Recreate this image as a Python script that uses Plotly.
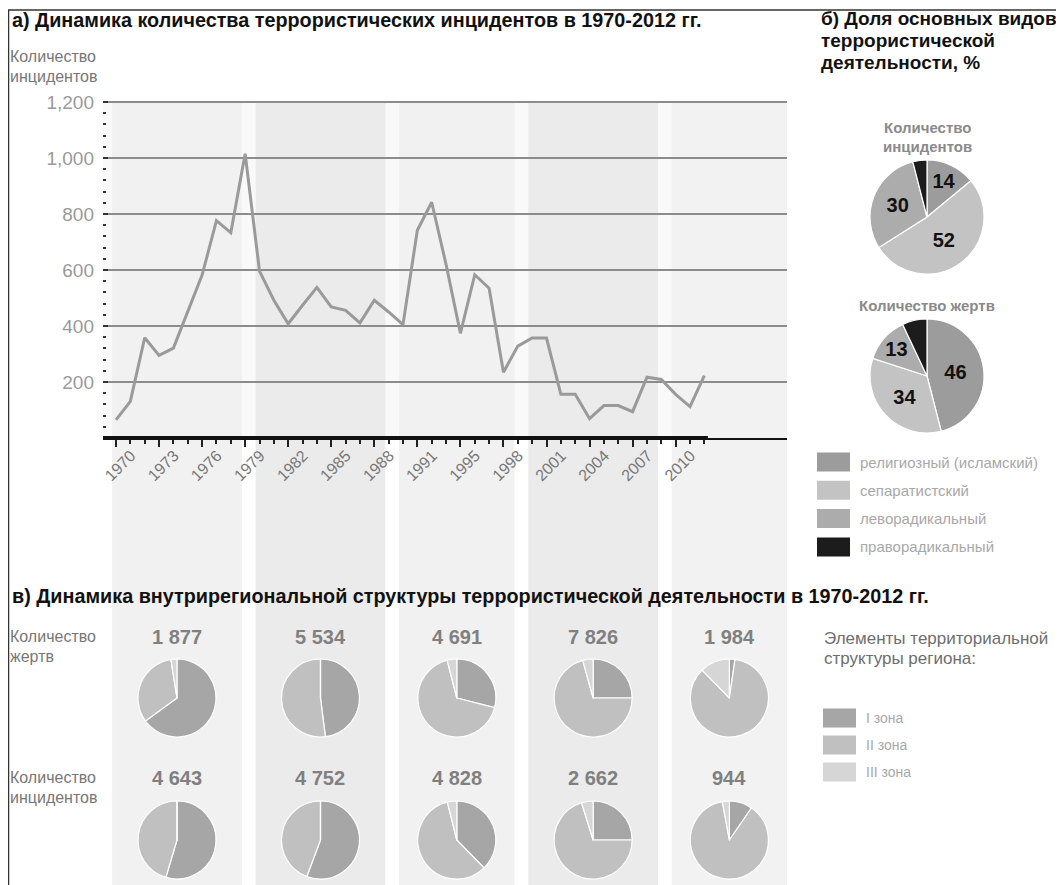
import plotly.graph_objects as go

W, H = 1064, 885
OFF = 8   # page body margin of the html page, compensated below
FONT = "Liberation Sans, Arial, sans-serif"

# ---------------- data ----------------
years = [1970, 1971, 1972, 1973, 1974, 1975, 1976, 1977, 1978, 1979,
         1980, 1981, 1982, 1983, 1984, 1985, 1986, 1987, 1988, 1989,
         1990, 1991, 1992, 1994, 1995, 1996, 1997, 1998, 1999, 2000,
         2001, 2002, 2003, 2004, 2005, 2006, 2007, 2008, 2009, 2010,
         2011, 2012]
incidents = [65, 131, 358, 295, 321, 455, 582, 776, 733, 1015,
             596, 492, 408, 474, 538, 468, 456, 411, 492, 450,
             405, 742, 842, 620, 374, 583, 535, 235, 328, 357,
             357, 156, 156, 69, 116, 116, 94, 217, 209, 156,
             112, 223]
tick_years = [1970, 1973, 1976, 1979, 1982, 1985, 1988, 1991, 1995, 1998,
              2001, 2004, 2007, 2010]
y_ticks = [200, 400, 600, 800, 1000, 1200]

periods = [(1970, 1979), (1980, 1989), (1990, 1999), (2000, 2009), (2010, 2012)]
band_colors = ["#f1f1f1", "#ebebeb", "#f1f1f1", "#ebebeb", "#f2f2f2"]

types = ["религиозный (исламский)", "сепаратистский", "леворадикальный", "праворадикальный"]
type_colors = ["#9c9c9c", "#c3c3c3", "#acacac", "#1c1c1c"]
share_incidents = [14, 52, 30, 4]
share_victims = [46, 34, 13, 7]

zones = ["I зона", "II зона", "III зона"]
zone_colors = ["#a6a6a6", "#c0c0c0", "#d6d6d6"]
victims_total = ["1 877", "5 534", "4 691", "7 826", "1 984"]
incidents_total = ["4 643", "4 752", "4 828", "2 662", "944"]
victims_zone = [[65, 32.5, 2.5], [48, 52, 0], [29, 67, 4], [25, 70.7, 4.3], [2.3, 85.4, 12.3]]
incidents_zone = [[54.6, 45.4, 0], [55.7, 44.3, 0], [37.7, 58.4, 3.9], [25, 70.2, 4.8], [9.6, 87.5, 2.9]]

# ---------------- helpers ----------------
def px(x):
    return (x - OFF) / W

def py(y):
    return 1 - (y - OFF) / H

X_L, X_R = 103, 787          # plot area in screen pixels
Y_T, Y_B = 100.3, 438
XR = [-0.906, 46.76]         # category index range
YR = [0, 1206]

def idx_px(i):
    return X_L + (i - XR[0]) * (X_R - X_L) / (XR[1] - XR[0])

idx = list(range(len(years)))

fig = go.Figure()

# ---------------- line chart ----------------
fig.add_trace(go.Scatter(
    x=idx, y=incidents, mode="lines",
    line=dict(color="#9a9a9a", width=3),
    hoverinfo="skip", showlegend=False))

shapes = []
shapes.append(dict(type="rect", xref="paper", yref="paper",
                   x0=px(X_L), x1=px(X_R), y0=py(Y_B), y1=py(103),
                   fillcolor="#f9f9f9", line=dict(width=0), layer="below"))
band_centers = []
for k, (a, b) in enumerate(periods):
    i0 = years.index(a) - 0.27
    i1 = years.index(b) - 0.23 if k < len(periods) - 1 else XR[1]
    band_centers.append(idx_px((i0 + i1) / 2))
    shapes.append(dict(type="rect", xref="x", yref="paper",
                       x0=i0, x1=i1, y0=0, y1=py(103),
                       fillcolor=band_colors[k], line=dict(width=0), layer="below"))
shapes.append(dict(type="line", xref="x", yref="y", x0=XR[0], x1=len(years) - 1 + 0.25,
                   y0=0, y1=0, line=dict(color="#111111", width=4)))
shapes.append(dict(type="line", xref="paper", yref="paper", x0=px(8), x1=1,
                   y0=py(10), y1=py(10), line=dict(color="#333333", width=1.5)))
shapes.append(dict(type="line", xref="paper", yref="paper", x0=px(8.5), x1=px(8.5),
                   y0=py(10), y1=0, line=dict(color="#333333", width=1.5)))

fig.update_layout(
    xaxis=dict(domain=[px(X_L), px(X_R)], range=XR, automargin=False,
               tickmode="array", tickvals=[years.index(y) for y in tick_years],
               ticktext=[str(y) for y in tick_years], tickangle=-45,
               tickfont=dict(family=FONT, size=16, color="#777777"),
               ticklabelshift=15, ticklabelstandoff=-7,
               ticks="outside", ticklen=7, tickwidth=2, tickcolor="#222222",
               minor=dict(tickvals=idx, ticks="outside", ticklen=4, tickwidth=2,
                          tickcolor="#222222"),
               showgrid=False, zeroline=False, showline=True,
               linecolor="#111111", linewidth=2, fixedrange=True),
    yaxis=dict(domain=[py(Y_B), py(Y_T)], range=YR, automargin=False,
               tickmode="array", tickvals=y_ticks, tickformat=",d",
               tickfont=dict(family=FONT, size=19, color="#9a9a9a"),
               ticklabelstandoff=8,
               ticks="inside", ticklen=5, tickwidth=2, tickcolor="#333333",
               minor=dict(dtick=40, tick0=0, ticks="inside", ticklen=3, tickwidth=2,
                          tickcolor="#333333", showgrid=False),
               showgrid=True, gridcolor="#8c8c8c", gridwidth=1.5,
               zeroline=False, showline=False, fixedrange=True),
)

# ---------------- right pies ----------------
def pie_domain(cx, cy, r):
    return dict(x=[px(cx - r), px(cx + r)], y=[py(cy + r), py(cy - r)])

for vals, cy in [(share_incidents, 217), (share_victims, 376)]:
    fig.add_trace(go.Pie(
        values=vals, labels=types, sort=False, direction="clockwise", rotation=0,
        marker=dict(colors=type_colors, line=dict(color="white", width=1.2)),
        text=[str(v) if v >= 10 else "" for v in vals], textinfo="text",
        textposition="inside", insidetextorientation="horizontal",
        textfont=dict(family="Liberation Sans Narrow, Liberation Sans, sans-serif",
                      size=20, color="#111111", weight="bold"),
        automargin=False,
        domain=pie_domain(927, cy, 57), hoverinfo="skip", showlegend=False))

# ---------------- bottom pies ----------------
for row_vals, cy in [(victims_zone, 698), (incidents_zone, 840)]:
    for k, vals in enumerate(row_vals):
        fig.add_trace(go.Pie(
            values=vals, labels=zones, sort=False, direction="clockwise", rotation=0,
            marker=dict(colors=zone_colors, line=dict(color="white", width=1.2)),
            textinfo="none", automargin=False,
            domain=pie_domain(band_centers[k], cy, 39),
            hoverinfo="skip", showlegend=False))

# ---------------- annotations ----------------
ann = []
def text(x, y, s, size, color, bold=False, xanchor="left", family=FONT):
    ann.append(dict(xref="paper", yref="paper", x=px(x), y=py(y),
                    text=("<b>%s</b>" % s) if bold else s, showarrow=False,
                    xanchor=xanchor, yanchor="middle",
                    font=dict(family=family, size=size, color=color)))

text(10, 20, "а) Динамика количества террористических инцидентов в 1970-2012 гг.", 19.8, "#111111", True)
text(8, 57, "Количество", 16, "#777777")
text(8, 76, "инцидентов", 16, "#777777")

for j, line in enumerate(["б) Доля основных видов", "террористической", "деятельности, %"]):
    text(819, 19 + j * 22, line, 19, "#111111", True)

text(927, 128, "Количество", 15, "#8a8a8a", True, "center")
text(927, 146, "инцидентов", 15, "#8a8a8a", True, "center")
text(927, 305, "Количество жертв", 15, "#8a8a8a", True, "center")

for k, (name, col) in enumerate(zip(types, type_colors)):
    yc = 462 + k * 28.3
    shapes.append(dict(type="rect", xref="paper", yref="paper",
                       x0=px(817), x1=px(850), y0=py(yc + 9.5), y1=py(yc - 9.5),
                       fillcolor=col, line=dict(width=0)))
    text(858, yc, name, 15, "#a8a8a8")

text(10, 596, "в) Динамика внутрирегиональной структуры террористической деятельности в 1970-2012 гг.", 19.8, "#111111", True)

text(8, 636, "Количество", 16, "#777777")
text(8, 656, "жертв", 16, "#777777")
text(8, 777, "Количество", 16, "#777777")
text(8, 797, "инцидентов", 16, "#777777")

for k in range(5):
    text(band_centers[k], 637, victims_total[k], 20, "#808080", True, "center")
    text(band_centers[k], 778, incidents_total[k], 20, "#808080", True, "center")

text(822, 638, "Элементы территориальной", 17, "#6e6e6e")
text(822, 658, "структуры региона:", 17, "#6e6e6e")
for k, (name, col) in enumerate(zip(zones, zone_colors)):
    yc = 718 + k * 27
    shapes.append(dict(type="rect", xref="paper", yref="paper",
                       x0=px(823), x1=px(856), y0=py(yc + 9.5), y1=py(yc - 9.5),
                       fillcolor=col, line=dict(width=0)))
    text(864, yc, name, 14, "#a8a8a8")

fig.update_layout(
    width=W, height=H, autosize=False,
    margin=dict(l=0, r=0, t=0, b=0, pad=0, autoexpand=False),
    paper_bgcolor="white", plot_bgcolor="rgba(0,0,0,0)",
    shapes=shapes, annotations=ann, showlegend=False,
    font=dict(family=FONT),
)

fig.write_html("out.html")
